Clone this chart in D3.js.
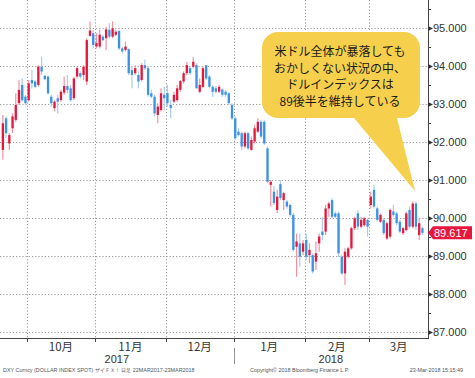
<!DOCTYPE html>
<html>
<head>
<meta charset="utf-8">
<script src="https://cdn.jsdelivr.net/npm/d3@7"></script>
<style>
  html, body { margin: 0; padding: 0; background: #fff; }
  svg { display: block; font-family: "Liberation Sans", Arial, sans-serif; }
  .grid line { stroke: #9a9a9a; stroke-width: 1; stroke-dasharray: 1.2 2; }
</style>
</head>
<body>
<svg id="chart" width="475" height="378"></svg>
<script>
// ── Data: daily DXY candles [open, high, low, close], 20 Sep 2017 – 23 Mar 2018 ──
const ohlc = [
  [91.80, 92.72, 91.54, 92.50], [92.63, 92.68, 92.11, 92.24], [91.97, 92.24, 91.80, 92.19],
  [92.37, 92.76, 92.24, 92.68], [92.59, 93.29, 92.54, 92.98], [93.03, 93.64, 92.98, 93.38],
  [93.51, 93.68, 93.07, 93.11], [93.20, 93.25, 92.98, 93.03], [93.11, 93.64, 93.07, 93.55],
  [93.64, 93.90, 93.42, 93.55], [93.60, 93.64, 93.42, 93.46], [93.51, 94.03, 93.46, 93.99],
  [93.99, 94.25, 93.77, 93.86], [93.75, 93.77, 93.64, 93.66], [93.73, 93.75, 93.25, 93.29],
  [93.20, 93.25, 92.94, 93.03], [92.90, 93.11, 92.81, 93.07], [93.16, 93.25, 92.76, 93.07],
  [93.11, 93.38, 93.07, 93.33], [93.31, 93.73, 93.25, 93.48], [93.48, 93.77, 93.29, 93.38],
  [93.42, 93.51, 93.07, 93.11], [93.16, 93.73, 93.11, 93.68], [93.73, 93.99, 93.68, 93.95],
  [93.82, 93.86, 93.68, 93.73], [93.77, 94.03, 93.64, 93.99], [93.60, 94.74, 93.51, 94.69],
  [94.80, 95.18, 94.78, 94.94], [94.87, 94.96, 94.47, 94.56], [94.52, 94.87, 94.47, 94.61],
  [94.52, 94.96, 94.47, 94.83], [94.78, 94.83, 94.65, 94.69], [94.74, 95.04, 94.43, 94.97],
  [94.96, 95.13, 94.74, 94.78], [94.78, 95.18, 94.74, 95.00], [94.83, 94.96, 94.80, 94.91],
  [94.93, 94.96, 94.43, 94.47], [94.47, 94.52, 94.34, 94.39], [94.43, 94.65, 94.39, 94.52],
  [94.45, 94.47, 93.77, 93.82], [93.90, 93.99, 93.42, 93.77], [93.82, 94.03, 93.77, 93.95],
  [93.77, 93.86, 93.42, 93.60], [93.64, 94.08, 93.60, 94.03], [94.03, 94.18, 93.90, 93.95],
  [93.95, 93.99, 93.20, 93.25], [93.29, 93.38, 93.16, 93.20], [93.20, 93.25, 92.68, 92.76],
  [92.72, 93.03, 92.50, 92.94], [92.85, 93.42, 92.81, 93.29], [93.25, 93.46, 92.85, 93.16],
  [93.29, 93.51, 92.94, 93.03], [92.98, 93.11, 92.63, 92.90], [93.07, 93.33, 93.03, 93.25],
  [93.11, 93.51, 93.07, 93.42], [93.38, 93.64, 93.33, 93.61], [93.60, 93.86, 93.55, 93.82],
  [93.82, 94.12, 93.77, 94.03], [93.95, 93.99, 93.77, 93.82], [93.99, 94.24, 93.95, 94.12],
  [94.03, 94.08, 93.42, 93.42], [93.33, 93.68, 93.29, 93.51], [93.46, 93.99, 93.42, 93.95],
  [94.03, 94.03, 93.64, 93.68], [93.73, 93.77, 93.42, 93.46], [93.46, 93.51, 93.20, 93.33],
  [93.42, 93.48, 93.29, 93.33], [93.33, 93.51, 93.29, 93.46], [93.39, 93.42, 93.20, 93.25],
  [93.33, 93.38, 93.20, 93.25], [93.29, 93.31, 92.98, 93.03], [92.98, 93.03, 92.59, 92.63],
  [92.63, 92.68, 92.06, 92.11], [92.28, 92.37, 92.15, 92.19], [92.24, 92.28, 91.80, 91.89],
  [91.89, 92.28, 91.84, 92.24], [92.24, 92.28, 91.80, 91.84], [91.80, 92.15, 91.78, 92.06],
  [92.02, 92.46, 91.97, 92.37], [92.28, 92.63, 92.24, 92.54], [92.54, 92.59, 92.10, 92.15],
  [92.54, 92.59, 91.93, 91.97], [91.84, 91.89, 90.92, 90.96], [90.88, 91.01, 90.31, 90.96],
  [90.70, 90.85, 90.35, 90.40], [90.22, 90.75, 90.13, 90.57], [90.90, 91.00, 90.48, 90.53],
  [90.48, 90.70, 90.22, 90.66], [90.44, 90.48, 90.26, 90.31], [90.35, 90.39, 90.04, 90.09],
  [90.09, 90.13, 89.12, 89.17], [89.25, 89.60, 88.46, 89.39], [89.34, 89.60, 88.73, 88.99],
  [89.12, 89.43, 89.03, 89.34], [89.43, 89.60, 88.90, 88.99], [89.03, 89.34, 88.82, 89.17],
  [89.03, 89.08, 88.55, 88.60], [88.86, 89.39, 88.64, 89.08], [89.34, 89.60, 89.12, 89.52],
  [89.65, 90.04, 89.43, 89.56], [89.65, 90.35, 89.56, 90.26], [90.26, 90.44, 90.04, 90.39],
  [90.48, 90.53, 90.00, 90.04], [90.13, 90.18, 90.00, 90.04], [90.13, 90.18, 88.99, 89.08],
  [88.99, 89.03, 88.51, 88.55], [88.55, 89.21, 88.25, 89.12], [88.99, 89.25, 88.95, 89.21],
  [89.21, 89.78, 89.17, 89.74], [89.74, 90.04, 89.69, 90.00], [90.13, 90.22, 89.69, 89.78],
  [89.78, 90.04, 89.74, 89.96], [89.82, 90.04, 89.78, 90.00], [89.96, 90.00, 89.52, 89.78],
  [90.35, 90.70, 90.26, 90.57], [90.75, 90.88, 90.26, 90.31], [90.26, 90.31, 89.91, 89.96],
  [89.91, 90.13, 89.87, 90.09], [89.96, 90.00, 89.56, 89.61], [89.47, 89.91, 89.43, 89.87],
  [89.52, 90.26, 89.47, 90.22], [90.18, 90.35, 90.04, 90.09], [90.13, 90.18, 89.82, 89.87],
  [89.91, 89.96, 89.61, 89.65], [89.61, 89.78, 89.56, 89.74], [89.69, 90.18, 89.65, 90.13],
  [90.22, 90.31, 89.74, 89.78], [89.78, 90.44, 89.74, 90.39], [90.39, 90.44, 89.69, 89.78],
  [89.56, 90.00, 89.43, 89.87], [89.74, 89.78, 89.56, 89.617]
];

// index of the first trading day of each month
const monthStarts = [8, 29, 51, 72, 94, 114];
const monthLabels = ['10月', '11月', '12月', '1月', '2月', '3月'];
const yearLabels = ['2017', '2018'];
const yTicks = [87, 88, 89, 90, 91, 92, 93, 94, 95];
const calloutLines = ['米ドル全体が暴落しても', 'おかしくない状況の中、', 'ドルインデックスは', '89後半を維持している'];
const footer = [
  'DXY Curncy (DOLLAR INDEX SPOT) ザイＦＸ！  日足 22MAR2017-23MAR2018',
  'Copyright© 2018 Bloomberg Finance L.P.',
  '23-Mar-2018 15:15:49'
];

// ── Layout ──
const plotRight = 428, plotBottom = 338;
const UP = '#e5173b', UP_WICK = '#f3929f';
const DOWN = '#3a92e6', DOWN_WICK = '#a6cdf2';

const svg = d3.select('#chart');

const x = d3.scaleBand()
  .domain(d3.range(ohlc.length))
  .range([1.7, 423.6])
  .paddingInner(0.28)
  .paddingOuter(0);
const step = x.step();
const cx = i => x(i) + x.bandwidth() / 2;
const boundary = i => cx(i) - step / 2;

const y = d3.scaleLinear().domain([87, 95]).range([332.3, 28.3]);

// ── Grid ──
const grid = svg.append('g').attr('class', 'grid');
grid.selectAll('line.h')
  .data(yTicks)
  .join('line')
    .attr('class', 'h')
    .attr('x1', 0).attr('x2', plotRight)
    .attr('y1', d => Math.round(y(d)) + 0.5)
    .attr('y2', d => Math.round(y(d)) + 0.5);
grid.selectAll('line.v')
  .data(monthStarts)
  .join('line')
    .attr('class', 'v')
    .attr('x1', d => Math.round(boundary(d)) + 0.5)
    .attr('x2', d => Math.round(boundary(d)) + 0.5)
    .attr('y1', 0).attr('y2', plotBottom);

// ── Candles ──
const candle = svg.append('g').selectAll('g')
  .data(ohlc)
  .join('g');

candle.append('line')
  .attr('x1', (d, i) => cx(i)).attr('x2', (d, i) => cx(i))
  .attr('y1', d => y(d[1])).attr('y2', d => y(d[2]))
  .attr('stroke', d => d[3] >= d[0] ? UP_WICK : DOWN_WICK)
  .attr('stroke-width', 1.2);

candle.append('rect')
  .attr('x', (d, i) => x(i))
  .attr('width', x.bandwidth())
  .attr('y', d => y(Math.max(d[0], d[3])))
  .attr('height', d => Math.max(1, Math.abs(y(d[0]) - y(d[3]))))
  .attr('fill', d => d[3] >= d[0] ? UP : DOWN);

// ── Right axis ──
const axisG = svg.append('g');
axisG.append('line')
  .attr('x1', plotRight + 0.5).attr('x2', plotRight + 0.5)
  .attr('y1', 0).attr('y2', plotBottom)
  .attr('stroke', '#444');

// minor ticks every half unit
axisG.selectAll('line.minor')
  .data(d3.range(87.5, 96, 1))
  .join('line')
    .attr('x1', plotRight).attr('x2', plotRight + 3)
    .attr('y1', d => Math.round(y(d)) + 0.5)
    .attr('y2', d => Math.round(y(d)) + 0.5)
    .attr('stroke', '#444');

const yt = axisG.selectAll('g.tick')
  .data(yTicks)
  .join('g')
    .attr('transform', d => `translate(${plotRight},${Math.round(y(d)) + 0.5})`);
yt.append('path')
  .attr('d', 'M0,-2.5L5,0L0,2.5Z')
  .attr('fill', '#333');
yt.append('text')
  .attr('x', 5)
  .attr('dy', '0.36em')
  .attr('font-size', 11)
  .attr('fill', '#333')
  .text(d => d3.format('.3f')(d));

// last price tag
const last = ohlc[ohlc.length - 1][3];
const ly = y(last);
svg.append('path')
  .attr('d', `M${plotRight},${ly}L${plotRight + 5},${ly - 6.5}H472V${ly + 6.5}H${plotRight + 5}Z`)
  .attr('fill', '#e8163c');
svg.append('text')
  .attr('x', plotRight + 6)
  .attr('y', ly)
  .attr('dy', '0.36em')
  .attr('font-size', 11)
  .attr('fill', '#fff')
  .text(d3.format('.3f')(last));

// ── Bottom axis ──
const bottom = svg.append('g');
bottom.append('line')
  .attr('x1', 0).attr('x2', plotRight + 1)
  .attr('y1', plotBottom + 0.5).attr('y2', plotBottom + 0.5)
  .attr('stroke', '#444');
bottom.selectAll('line.tick')
  .data(monthStarts)
  .join('line')
    .attr('x1', d => Math.round(boundary(d)) + 0.5)
    .attr('x2', d => Math.round(boundary(d)) + 0.5)
    .attr('y1', plotBottom).attr('y2', plotBottom + 4)
    .attr('stroke', '#444');

const monthEdges = monthStarts.map(boundary).concat([plotRight]);
bottom.selectAll('text.month')
  .data(monthLabels)
  .join('text')
    .attr('x', (d, i) => (monthEdges[i] + monthEdges[i + 1]) / 2)
    .attr('y', 351)
    .attr('text-anchor', 'middle')
    .attr('font-family', '"Noto Sans CJK JP", sans-serif')
    .attr('font-size', 11.5)
    .attr('fill', '#333')
    .text(d => d);

// year labels centred on each year's span
const yearEdges = [0, boundary(monthStarts[3]), plotRight];
bottom.selectAll('text.year')
  .data(yearLabels)
  .join('text')
    .attr('x', (d, i) => (yearEdges[i] + yearEdges[i + 1]) / 2)
    .attr('y', 363)
    .attr('text-anchor', 'middle')
    .attr('font-size', 11)
    .attr('fill', '#333')
    .text(d => d);
bottom.append('line')
  .attr('x1', Math.round(yearEdges[1]) + 0.5).attr('x2', Math.round(yearEdges[1]) + 0.5)
  .attr('y1', 348).attr('y2', 364)
  .attr('stroke', '#999');

// footer
svg.append('text').attr('x', 3).attr('y', 372)
  .attr('font-size', 5.4).attr('fill', '#555').text(footer[0]);
svg.append('text').attr('x', 250).attr('y', 372)
  .attr('font-size', 5.4).attr('fill', '#555').text(footer[1]);
svg.append('text').attr('x', 463).attr('y', 372).attr('text-anchor', 'end')
  .attr('font-size', 5.4).attr('fill', '#555').text(footer[2]);

// ── Callout ──
svg.append('path')
  .attr('d', 'M278,32H404A16,16 0 0 1 420,48V102A16,16 0 0 1 404,118H397L415,191L354,118H278A16,16 0 0 1 262,102V48A16,16 0 0 1 278,32Z')
  .attr('fill', '#f6d04c');
svg.append('g').selectAll('text')
  .data(calloutLines)
  .join('text')
    .attr('x', 340)
    .attr('y', (d, i) => 52 + i * 16.4)
    .attr('dy', '0.36em')
    .attr('text-anchor', 'middle')
    .attr('font-family', '"Noto Sans CJK JP", sans-serif')
    .attr('font-size', 12)
    .attr('fill', '#1a1a1a')
    .text(d => d);
</script>
</body>
</html>
